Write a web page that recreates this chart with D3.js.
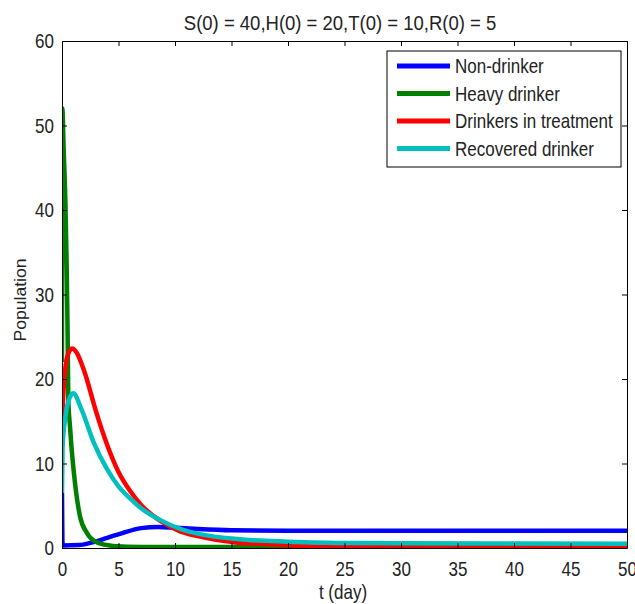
<!DOCTYPE html>
<html>
<head>
<meta charset="utf-8">
<script src="https://cdn.jsdelivr.net/npm/d3@7.9.0/dist/d3.min.js"></script>
<style>
  body { margin: 0; background: #fff; }
  text { font-family: "Liberation Sans", Arial, sans-serif; fill: #222; }
</style>
</head>
<body>
<svg id="chart" width="635" height="604"></svg>
<script>
// values: [t, population]
const nonDrinker = [[0, 6.5], [0.05, 0.3], [1.5, 0.35], [2.5, 0.6], [4, 1.2], [5.4, 1.8], [7, 2.35],
  [8.5, 2.5], [10, 2.4], [12, 2.25], [15, 2.1], [20, 2.05], [50, 2.05]];
const heavyDrinker = [[0, 22], [0.03, 52], [0.15, 47], [0.3, 41], [0.42, 33], [0.5, 25], [0.56, 17.5],
  [0.7, 14.5], [0.86, 11.6], [1.15, 7.7], [1.6, 3.7], [2.2, 1.8], [3.2, 0.6], [4.5, 0.25],
  [7, 0.12], [50, 0.1]];
const inTreatment = [[0, 15], [0.2, 20], [0.5, 22.8], [0.9, 23.6], [1.3, 23.1], [2, 20.8],
  [3, 16.2], [4, 12.2], [5, 9.0], [6, 6.8], [7, 5.1], [8.7, 3.2], [10.4, 2.0], [12, 1.4],
  [15.7, 0.6], [17.5, 0.5], [21, 0.25], [25, 0.12], [30, 0.05], [50, 0.02]];
const recovered = [[0, 6.5], [0.05, 12], [0.3, 15.5], [0.6, 17.5], [1.0, 18.3], [1.7, 16.5],
  [2.8, 12.5], [4, 9.3], [5, 7.3], [6, 5.9], [7, 4.7], [8.7, 3.3], [10.4, 2.3], [12, 1.7],
  [16, 1.0], [20, 0.75], [25, 0.6], [30, 0.55], [50, 0.5]];

const seriesNames = ["Non-drinker", "Heavy drinker", "Drinkers in treatment", "Recovered drinker"];
const seriesColors = ["#0000ff", "#007f00", "#ff0000", "#00bfbf"];
const seriesData = [nonDrinker, heavyDrinker, inTreatment, recovered];

const xTicks = d3.range(0, 51, 5);
const yTicks = d3.range(0, 61, 10);

const svg = d3.select("#chart");
const plotL = 62, plotR = 627, plotT = 41, plotB = 548;
const stretch = 1.2; // the reference text is drawn tall and narrow

const x = d3.scaleLinear().domain([0, 50]).range([plotL, plotR]);
const y = d3.scaleLinear().domain([0, 60]).range([plotB, plotT]);

svg.append("clipPath").attr("id", "plotclip")
  .append("rect").attr("x", plotL).attr("y", plotT)
  .attr("width", plotR - plotL).attr("height", plotB - plotT);

const line = d3.line()
  .x(d => x(d[0]))
  .y(d => y(d[1]))
  .curve(d3.curveMonotoneX);

const plot = svg.append("g").attr("clip-path", "url(#plotclip)");
seriesData.forEach((s, i) => {
  plot.append("path")
    .attr("d", line(s))
    .attr("fill", "none")
    .attr("stroke", seriesColors[i])
    .attr("stroke-width", 4.5)
    .attr("stroke-linejoin", "round");
});

// axes with inward ticks on all four sides
svg.append("g").attr("transform", `translate(0,${plotB})`)
  .call(d3.axisBottom(x).tickValues(xTicks).tickSizeInner(-5).tickSizeOuter(0).tickPadding(11.5))
  .call(g => g.selectAll("text").attr("font-size", 17).attr("transform", `scale(1,${stretch})`));
svg.append("g").attr("transform", `translate(0,${plotT})`)
  .call(d3.axisTop(x).tickValues(xTicks).tickSizeInner(-5).tickSizeOuter(0).tickFormat(""));
svg.append("g").attr("transform", `translate(${plotL},0)`)
  .call(d3.axisLeft(y).tickValues(yTicks).tickSizeInner(-5).tickSizeOuter(0).tickPadding(8))
  .call(g => g.selectAll("text").attr("font-size", 17).attr("transform", `scale(1,${stretch})`));
svg.append("g").attr("transform", `translate(${plotR},0)`)
  .call(d3.axisRight(y).tickValues(yTicks).tickSizeInner(-5).tickSizeOuter(0).tickFormat(""));
svg.selectAll(".domain").attr("stroke", "#000");
svg.selectAll(".tick line").attr("stroke", "#000");

function label(px, py, txt, size, sy, anchor) {
  return svg.append("g").attr("transform", `translate(${px},${py}) scale(1,${sy})`)
    .append("text").attr("text-anchor", anchor || "start").attr("font-size", size).text(txt);
}

label(340, 30, "S(0) = 40,H(0) = 20,T(0) = 10,R(0) = 5", 18.5, 1.05, "middle");
label(343, 599, "t (day)", 17, stretch, "middle");
svg.append("g").attr("transform", "translate(26,300) rotate(-90) scale(1.1,1)")
  .append("text").attr("text-anchor", "middle").attr("font-size", 16).text("Population");

// legend
const legend = svg.append("g");
legend.append("rect").attr("x", 387).attr("y", 51).attr("width", 234).attr("height", 116)
  .attr("fill", "#fff").attr("stroke", "#000");
seriesNames.forEach((name, i) => {
  const ly = 66 + i * 27.5;
  legend.append("line").attr("x1", 397).attr("x2", 450).attr("y1", ly).attr("y2", ly)
    .attr("stroke", seriesColors[i]).attr("stroke-width", 5);
  label(455, ly + 7, name, 17, stretch, "start");
});
</script>
</body>
</html>
